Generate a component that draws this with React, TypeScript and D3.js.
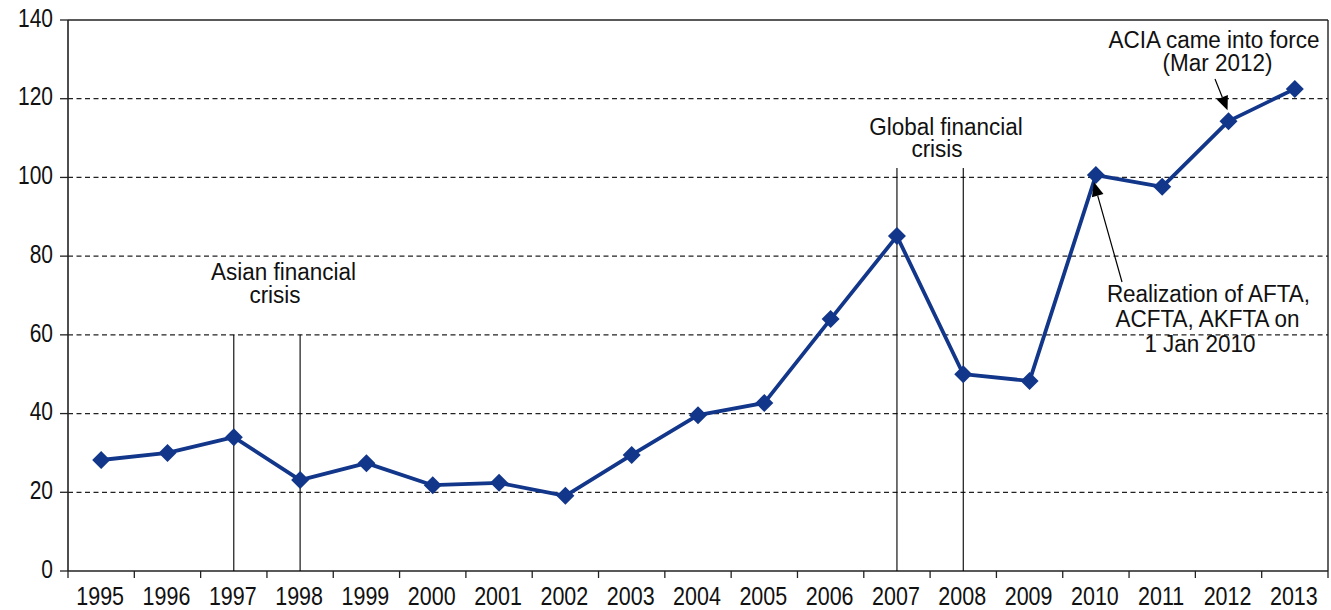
import React from "react";
import * as d3 from "d3";

const years = ["1995","1996","1997","1998","1999","2000","2001","2002","2003","2004","2005","2006","2007","2008","2009","2010","2011","2012","2013"];
const values = [28.2,30.0,34.0,23.1,27.4,21.8,22.4,19.1,29.5,39.6,42.7,64.0,85.1,50.0,48.3,100.6,97.6,114.3,122.5];
const yTicks = [0,20,40,60,80,100,120,140];

const W = 1331, H = 610;
const L = 68, R = 1328, T = 20, B = 571;
const NAVY = "#12368a";
const FONT = "Arial, 'Liberation Sans', sans-serif";

function Arrow({x1, y1, x2, y2, head = 14, hw = 6}: any) {
  const dx = x2 - x1, dy = y2 - y1;
  const len = Math.sqrt(dx * dx + dy * dy);
  const ux = dx / len, uy = dy / len;
  const bx = x2 - ux * head, by = y2 - uy * head;
  const px = -uy, py = ux;
  return (
    <g>
      <line x1={x1} y1={y1} x2={bx} y2={by} stroke="#000" strokeWidth={1.2} />
      <polygon points={`${x2},${y2} ${bx + px * hw},${by + py * hw} ${bx - px * hw},${by - py * hw}`} fill="#000" />
    </g>
  );
}

function Label({x, y, anchor = "middle", size = 22.5, sy = 1.05, children}: any) {
  return (
    <text transform={`translate(${x},${y}) scale(1,${sy})`} textAnchor={anchor} fontSize={size} fontFamily={FONT} fill="#111">
      {children}
    </text>
  );
}

export default function App() {
  const x = d3.scaleBand<string>().domain(years).range([L, R]).padding(0);
  const y = d3.scaleLinear().domain([0, 140]).range([B, T]);
  const bw = x.bandwidth();
  const cx = (yr: string) => (x(yr) as number) + bw / 2;
  const pts: [number, number][] = years.map((yr, i) => [cx(yr), y(values[i])]);
  const line = d3.line()(pts) as string;
  const bounds = years.map((yr) => x(yr) as number).concat([R]);
  const d = 9;

  const i2010 = years.indexOf("2010");
  const i2012 = years.indexOf("2012");

  return (
    <svg width={W} height={H} style={{position: "absolute", left: 0, top: 0, background: "#fff"}}>
      {/* grid */}
      {yTicks.filter((t) => t > 0 && t < 140).map((t) => (
        <line key={t} x1={L} x2={R} y1={y(t)} y2={y(t)} stroke="#222" strokeWidth={1.3} strokeDasharray="5,3.5" />
      ))}
      {/* frame */}
      <line x1={L} x2={R} y1={T} y2={T} stroke="#222" strokeWidth={1.4} />
      <line x1={R} x2={R} y1={T} y2={B} stroke="#222" strokeWidth={1.4} />
      <line x1={L} x2={L} y1={T} y2={B} stroke="#222" strokeWidth={1.6} />
      <line x1={L} x2={R} y1={B} y2={B} stroke="#222" strokeWidth={1.6} />
      {/* y ticks */}
      {yTicks.map((t) => (
        <g key={t}>
          <line x1={L - 8} x2={L} y1={y(t)} y2={y(t)} stroke="#222" strokeWidth={1.3} />
          <Label x={53} y={y(t) + 6.7} anchor="end" size={21} sy={1.2}>{t}</Label>
        </g>
      ))}
      {/* x ticks */}
      {bounds.map((b, i) => (
        <line key={i} x1={b} x2={b} y1={B} y2={B + 7} stroke="#222" strokeWidth={1.3} />
      ))}
      {years.map((yr) => (
        <Label key={yr} x={cx(yr) - 1} y={605} size={21.5} sy={1.18}>{yr}</Label>
      ))}
      {/* crisis lines */}
      {["1997", "1998"].map((yr) => (
        <line key={yr} x1={cx(yr)} x2={cx(yr)} y1={y(60)} y2={B} stroke="#000" strokeWidth={1.1} />
      ))}
      {["2007", "2008"].map((yr) => (
        <line key={yr} x1={cx(yr)} x2={cx(yr)} y1={y(102.4)} y2={B} stroke="#000" strokeWidth={1.1} />
      ))}
      {/* series */}
      <path d={line} fill="none" stroke={NAVY} strokeWidth={3.8} strokeLinejoin="round" />
      {pts.map(([px, py], i) => (
        <polygon key={i} points={`${px},${py - d} ${px + d},${py} ${px},${py + d} ${px - d},${py}`} fill={NAVY} />
      ))}
      {/* annotations */}
      <Label x={283.5} y={280}>Asian financial</Label>
      <Label x={275} y={303}>crisis</Label>
      <Label x={946} y={135}>Global financial</Label>
      <Label x={937} y={157}>crisis</Label>
      <Label x={1214} y={48}>ACIA came into force</Label>
      <Label x={1217.5} y={71}>(Mar 2012)</Label>
      <Arrow x1={1215} y1={79} x2={pts[i2012][0] - 1} y2={pts[i2012][1] - 11} />
      <Label x={1208.5} y={302}>Realization of AFTA,</Label>
      <Label x={1207.5} y={327}>ACFTA, AKFTA on</Label>
      <Label x={1200} y={352}>1 Jan 2010</Label>
      <Arrow x1={1122} y1={282} x2={pts[i2010][0] - 2} y2={pts[i2010][1] + 7} />
    </svg>
  );
}
